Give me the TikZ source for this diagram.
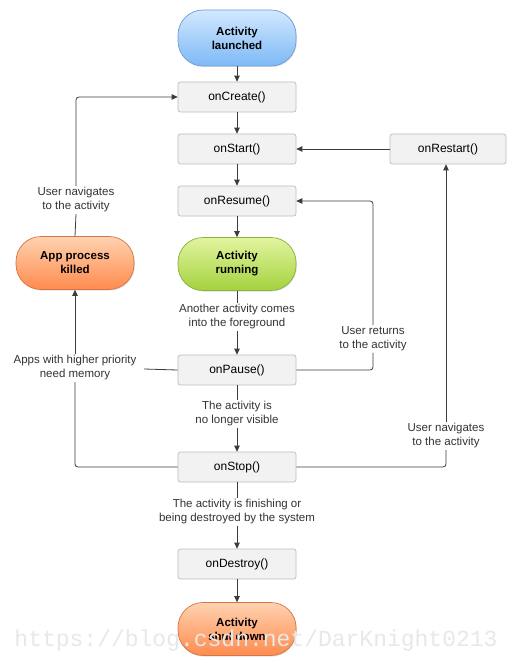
\documentclass[tikz,border=0pt]{standalone}
\usepackage{fontspec}
\setmainfont{Liberation Sans}
\newfontfamily\wmfont{Liberation Mono}
\usetikzlibrary{arrows.meta,shadows}
\definecolor{boxfill}{HTML}{F2F2F2}
\definecolor{boxline}{HTML}{BDBDBD}
\definecolor{linec}{HTML}{3C3C3C}
\definecolor{txt}{HTML}{333333}
\definecolor{blueT}{HTML}{D2E8FF}
\definecolor{blueB}{HTML}{7DB9F6}
\definecolor{blueL}{HTML}{6C9ED6}
\definecolor{greenT}{HTML}{E2F4A0}
\definecolor{greenB}{HTML}{A4D23E}
\definecolor{greenL}{HTML}{88B238}
\definecolor{orT}{HTML}{FFD2B0}
\definecolor{orB}{HTML}{FF8B4E}
\definecolor{orL}{HTML}{D57445}
\begin{document}
\begin{tikzpicture}[x=1pt,y=-1pt,
  box/.style={draw=boxline, line width=0.7pt, fill=boxfill, rounded corners=2.5pt, minimum width=118pt, minimum height=30pt, inner sep=0pt, font=\fontsize{12}{14}\selectfont, text=black},
  capsule/.style={rounded corners=25pt, line width=0.7pt, minimum width=118pt, minimum height=53pt, inner sep=0pt, align=center, font=\fontsize{11.5}{14}\selectfont\bfseries, text=black, drop shadow={shadow xshift=0.8pt, shadow yshift=-1pt, opacity=0.25}},
  lab/.style={align=center, font=\fontsize{11.5}{14}\selectfont, text=txt, inner sep=1.5pt},
  conn/.style={draw=linec, line width=0.8pt},
  arr/.style={conn, -{Triangle[length=6pt,width=5.5pt]}}
]
\useasboundingbox (0,0) rectangle (513,663);
\fill[white] (0,0) rectangle (513,663);

\node[capsule, minimum height=56pt, draw=blueL, top color=blueT, bottom color=blueB] (launched) at (237,38) {Activity\\launched};
\node[box] (create) at (237,97) {onCreate()};
\node[box] (start) at (237,149) {onStart()};
\node[box, minimum width=116pt] (restart) at (448,149) {onRestart()};
\node[box] (resume) at (237,201) {onResume()};
\node[capsule, draw=greenL, top color=greenT, bottom color=greenB] (running) at (237,264) {Activity\\running};
\node[capsule, draw=orL, top color=orT, bottom color=orB] (killed) at (75,263) {App process\\killed};
\node[lab] (labnav) at (76,200) {User navigates\\to the activity};
\node[lab] (labfore) at (237,317) {Another activity comes\\into the foreground};
\node[box] (pause) at (237,370) {onPause()};
\node[lab] (labapps) at (75,368) {Apps with higher priority\\need memory};
\node[lab] (labret) at (373,339) {User returns\\to the activity};
\node[lab] (labvis) at (237,414) {The activity is\\no longer visible};
\node[box] (stop) at (237,467) {onStop()};
\node[lab] (labnav2) at (446,436) {User navigates\\to the activity};
\node[lab] (labfin) at (237,512) {The activity is finishing or\\being destroyed by the system};
\node[box] (destroy) at (237,564) {onDestroy()};
\node[capsule, draw=orL, top color=orT, bottom color=orB] (shut) at (237,629) {Activity\\shut down};

\draw[arr] (launched) -- (create);
\draw[arr] (create) -- (start);
\draw[arr] (start) -- (resume);
\draw[arr] (resume) -- (running);
\draw[conn] (running) -- (labfore);
\draw[arr] (labfore) -- (pause);
\draw[conn] (pause) -- (labvis);
\draw[arr] (labvis) -- (stop);
\draw[conn] (stop) -- (labfin);
\draw[arr] (labfin) -- (destroy);
\draw[arr] (destroy) -- (shut);
\draw[arr] (restart) -- (start);
\draw[conn, rounded corners=3pt] (stop.east) -| (labnav2.south);
\draw[arr] (labnav2.north) -- (restart.south -| labnav2.north);
\draw[conn, rounded corners=3pt] (pause.east) -| (labret.south);
\draw[arr, rounded corners=3pt] (labret.north) |- (resume.east);
\draw[conn] (pause.west) -- ([xshift=6pt,yshift=-1pt]labapps.east);
\draw[conn, rounded corners=3pt] (stop.west) -| (labapps.south);
\draw[arr] (labapps.north) -- (killed.south);
\draw[conn] (killed.north) -- (labnav.south);
\draw[arr, rounded corners=3pt] (labnav.north) |- (create.west);

\node[font=\wmfont\fontsize{23}{23}\selectfont, text=black!9, inner sep=0pt] (wm) at (256,641) {https://blog.csdn.net/DarKnight0213};
\end{tikzpicture}
\end{document}
